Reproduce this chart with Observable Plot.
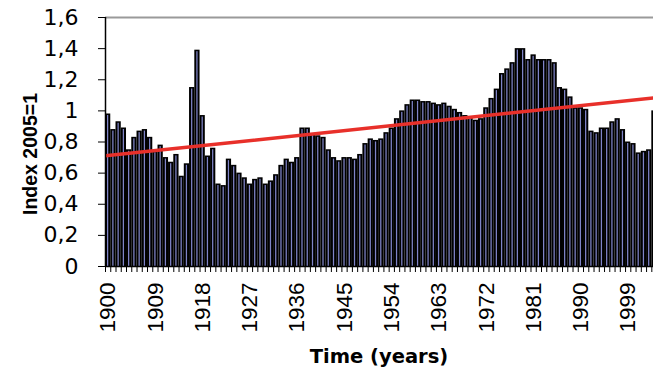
<!DOCTYPE html>
<html>
<head>
<meta charset="utf-8">
<script src="https://cdn.jsdelivr.net/npm/d3@7"></script>
<script src="https://cdn.jsdelivr.net/npm/@observablehq/plot@0.6"></script>
<style>
  html, body { margin: 0; padding: 0; background: #fff; overflow: hidden; }
  #wrap { width: 653px; height: 383px; position: relative; }
  #xtitle { position: absolute; left: 105px; width: 548px; top: 340px; height: 34px; line-height: 34px;
    text-align: center; font-family: "DejaVu Sans", sans-serif; font-weight: bold; font-size: 19.5px; color: #000; }
</style>
</head>
<body>
<div id="wrap"><div id="chart"></div><div id="xtitle">Time (years)</div></div>
<script>
// Categories: years 1900–2004 (visible part of the chart)
const years = d3.range(1900, 2005);
// Index values (2005 = 1)
const values = [
  0.98, 0.88, 0.93, 0.89, 0.75, 0.83, 0.87, 0.88, 0.83, 0.74, // 1900-1909
  0.78, 0.70, 0.67, 0.72, 0.58, 0.66, 1.15, 1.39, 0.97, 0.71, // 1910-1919
  0.76, 0.53, 0.52, 0.69, 0.65, 0.60, 0.57, 0.53, 0.56, 0.57, // 1920-1929
  0.53, 0.55, 0.59, 0.65, 0.69, 0.67, 0.70, 0.89, 0.89, 0.85, // 1930-1939
  0.84, 0.83, 0.75, 0.70, 0.68, 0.70, 0.70, 0.69, 0.72, 0.79, // 1940-1949
  0.82, 0.81, 0.82, 0.86, 0.89, 0.95, 1.00, 1.04, 1.07, 1.07, // 1950-1959
  1.06, 1.06, 1.05, 1.04, 1.05, 1.03, 1.01, 0.99, 0.97, 0.96, // 1960-1969
  0.94, 0.95, 1.02, 1.08, 1.14, 1.24, 1.27, 1.31, 1.40, 1.40, // 1970-1979
  1.33, 1.36, 1.33, 1.33, 1.33, 1.31, 1.15, 1.14, 1.09, 1.02, // 1980-1989
  1.02, 1.01, 0.87, 0.86, 0.89, 0.89, 0.93, 0.95, 0.88, 0.80, // 1990-1999
  0.79, 0.73, 0.74, 0.75, 1.00                                // 2000-2004
];
// Linear trend line end points
const trendYears = [1899.5, 2004.5];
const trendValues = [0.711, 1.086];
// Axis ticks and labels
const xLabelYears = [1900, 1909, 1918, 1927, 1936, 1945, 1954, 1963, 1972, 1981, 1990, 1999];
const yTicks = [0, 0.2, 0.4, 0.6, 0.8, 1, 1.2, 1.4, 1.6];
const yTickLabels = ["0", "0,2", "0,4", "0,6", "0,8", "1", "1,2", "1,4", "1,6"];

const data = years.map((year, i) => ({year, value: values[i]}));
const trend = trendYears.map((x, i) => ({x, y: trendValues[i]}));
const boundaries = years.map(y => y - 0.5);
const xDomain = [1899.5, 2003.82];

const chart = Plot.plot({
  width: 653,
  height: 340,
  marginLeft: 105,
  marginRight: 0,
  marginTop: 17,
  marginBottom: 74,
  x: {type: "linear", domain: xDomain, axis: null},
  y: {domain: [0, 1.6], axis: null},
  marks: [
    Plot.ruleY([1.6], {stroke: "#9a9a9a", strokeWidth: 2}),
    Plot.rectY(data, {x1: d => d.year - 0.5, x2: d => d.year + 0.5, y: "value", fill: "#000", clip: true}),
    Plot.rectY(data, {x1: d => d.year - 0.5, x2: d => d.year + 0.5, y: "value", fill: "#7f84c8",
      insetLeft: 2, insetRight: 2, insetTop: 1.5, clip: true}),
    Plot.line(trend, {x: "x", y: "y", stroke: "#e8302a", strokeWidth: 3.5, clip: true}),
    Plot.ruleY([0], {stroke: "#000", strokeWidth: 1.5}),
    Plot.ruleX([xDomain[0]], {stroke: "#000", strokeWidth: 1.5}),
    Plot.axisY({ticks: yTicks, tickFormat: d => yTickLabels[yTicks.indexOf(d)], tickSize: 7, tickPadding: 20,
      fontSize: 22, fontFamily: "DejaVu Sans", label: null}),
    Plot.axisX({ticks: boundaries, tickFormat: () => "", tickSize: 6, label: null}),
    Plot.axisX({ticks: xLabelYears, tickFormat: d => String(d), tickSize: 0, tickRotate: -90, tickPadding: 16,
      fontSize: 22.5, fontFamily: "Liberation Sans", label: null}),
    Plot.text(["Index 2005=1"], {frameAnchor: "left", textAnchor: "middle", rotate: -90, dx: -75, dy: 12,
      fontWeight: "bold", fontSize: 19.5, fontFamily: "Liberation Sans", fill: "#000"})
  ]
});
document.getElementById("chart").appendChild(chart);
</script>
</body>
</html>
